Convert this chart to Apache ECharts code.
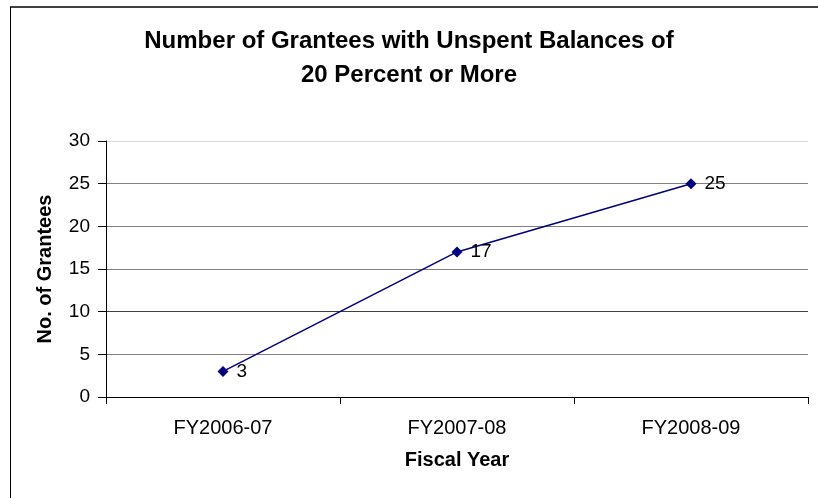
<!DOCTYPE html>
<html>
<head>
<meta charset="utf-8">
<script src="https://cdn.jsdelivr.net/npm/echarts@6/dist/echarts.min.js"></script>
<style>
  html, body { margin: 0; padding: 0; background: #fff; }
  #main { width: 818px; height: 498px; }
</style>
</head>
<body>
<div id="main"></div>
<script>
var years = ["FY2006-07", "FY2007-08", "FY2008-09"];
var grantees = [3, 17, 25];
var yTicks = [0, 5, 10, 15, 20, 25, 30];

var chart = echarts.init(document.getElementById("main"));
var font = "Liberation Sans, Arial, sans-serif";

var option = {
  backgroundColor: "#fff",
  animation: false,
  title: {
    text: "Number of Grantees with Unspent Balances of\n20 Percent or More",
    left: 409,
    top: 24,
    padding: 0,
    textAlign: "center",
    textStyle: {
      fontFamily: font,
      fontSize: 24,
      fontWeight: "bold",
      color: "#000",
      lineHeight: 34
    }
  },
  graphic: [
    { type: "line", shape: { x1: 10, y1: 7, x2: 818, y2: 7 }, style: { stroke: "#404040", lineWidth: 2 } },
    { type: "line", shape: { x1: 10.5, y1: 7, x2: 10.5, y2: 498 }, style: { stroke: "#000", lineWidth: 1 } }
  ],
  grid: { left: 106, right: 10, top: 141, bottom: 101, containLabel: false },
  xAxis: {
    type: "category",
    data: years,
    boundaryGap: true,
    name: "Fiscal Year",
    nameLocation: "middle",
    nameGap: 53,
    nameTextStyle: { fontFamily: font, fontSize: 20, fontWeight: "bold", color: "#000" },
    axisLine: { lineStyle: { color: "#000", width: 1 } },
    axisTick: { show: true, alignWithLabel: false, length: 7, lineStyle: { color: "#000" } },
    axisLabel: { fontFamily: font, fontSize: 20, color: "#000", margin: 21 }
  },
  yAxis: {
    type: "value",
    min: yTicks[0],
    max: yTicks[yTicks.length - 1],
    interval: 5,
    name: "No. of Grantees",
    nameLocation: "middle",
    nameGap: 51,
    nameTextStyle: { fontFamily: font, fontSize: 20, fontWeight: "bold", color: "#000" },
    axisLine: { show: true, lineStyle: { color: "#000", width: 1 } },
    axisTick: { show: true, length: 8, lineStyle: { color: "#000" } },
    axisLabel: { fontFamily: font, fontSize: 19, color: "#000", margin: 16 },
    splitLine: {
      show: true,
      lineStyle: {
        color: ["#808080", "#808080", "#404040", "#808080", "#808080", "#808080", "#d9d9d9"],
        width: 1
      }
    }
  },
  series: [
    {
      type: "line",
      data: grantees,
      symbol: "diamond",
      symbolSize: 11,
      itemStyle: { color: "#000080" },
      lineStyle: { color: "#000080", width: 1.5 },
      label: {
        show: true,
        position: "right",
        distance: 8,
        fontFamily: font,
        fontSize: 19,
        color: "#000"
      }
    }
  ]
};

chart.setOption(option);
</script>
</body>
</html>
